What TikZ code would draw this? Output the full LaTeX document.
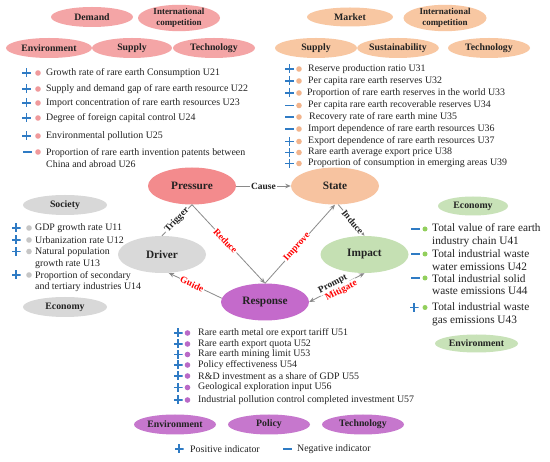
\documentclass[tikz,border=0pt]{standalone}
\usepackage{fontspec}
\setmainfont{Liberation Serif}
\setsansfont{Liberation Sans}
\usetikzlibrary{shapes.geometric,arrows.meta}
\definecolor{pinkM}{HTML}{F38B8D}
\definecolor{pinkS}{HTML}{F4A5A6}
\definecolor{pinkD}{HTML}{F09A9C}
\definecolor{peachM}{HTML}{F7C3A0}
\definecolor{peachS}{HTML}{F8C7A2}
\definecolor{peachD}{HTML}{F2B48C}
\definecolor{greyM}{HTML}{D9D9D9}
\definecolor{greyS}{HTML}{D8D8D8}
\definecolor{greyD}{HTML}{C6C6C6}
\definecolor{greenM}{HTML}{C5E0B3}
\definecolor{greenS}{HTML}{C8E2B8}
\definecolor{greenD}{HTML}{92CF5C}
\definecolor{purpM}{HTML}{C46ACB}
\definecolor{purpS}{HTML}{C677CD}
\definecolor{purpD}{HTML}{BA6AC7}
\definecolor{signblue}{HTML}{2F7BC4}
\definecolor{linegrey}{HTML}{8A8A8A}
\definecolor{txt}{HTML}{222222}
\tikzset{
  mainell/.style={ellipse, minimum width=88pt, minimum height=37pt, inner sep=0pt,
    font=\fontsize{11.3}{12}\selectfont\bfseries, text=txt},
  grpell/.style={ellipse, minimum width=82pt, minimum height=20pt, inner sep=0pt,
    font=\fontsize{9.8}{10.5}\selectfont\bfseries, text=txt, align=center},
  intell/.style={grpell, minimum height=22pt, font=\fontsize{9}{10.5}\selectfont\bfseries},
  itemtxt/.style={anchor=west, inner sep=0pt, font=\fontsize{9.9}{11.8}\selectfont, text=txt, align=left},
  bigitem/.style={anchor=west, inner sep=0pt, font=\fontsize{11.3}{12.6}\selectfont, text=txt, align=left},
  possign/.style={minimum size=9pt, inner sep=0pt, path picture={
      \fill[signblue] ([yshift=-0.8pt]path picture bounding box.west) rectangle ([yshift=0.8pt]path picture bounding box.east);
      \fill[signblue] ([xshift=-0.8pt]path picture bounding box.south) rectangle ([xshift=0.8pt]path picture bounding box.north);}},
  negsign/.style={minimum width=9pt, minimum height=1.6pt, inner sep=0pt, fill=signblue},
  bullet/.style={circle, minimum size=5.6pt, inner sep=0pt},
  conn/.style={draw=linegrey, line width=0.8pt, -{Stealth[length=5.5pt,width=4.5pt]}},
  plainconn/.style={draw=linegrey, line width=0.8pt},
  lbl/.style={font=\fontsize{9.5}{10}\selectfont\bfseries, fill=white, inner sep=0.8pt, sloped, text=txt},
  redlbl/.style={lbl, text=red},
}
\begin{document}
\begin{tikzpicture}[x=1pt,y=-1pt]
\fill[white] (0,0) rectangle (550,462);
\path[use as bounding box] (0,0) rectangle (550,462);

% ---------- main DPSIR ellipses
\node[mainell, fill=pinkM] (pressure) at (192,186) {Pressure};
\node[mainell, fill=peachM] (state) at (335,186) {State};
\node[mainell, fill=greyM] (driver) at (162,254.5) {Driver};
\node[mainell, fill=greenM] (impact) at (364.5,254.5) {Impact};
\node[mainell, fill=purpM] (response) at (265,302) {Response};

% ---------- connectors
\draw[conn] (pressure) -- node[lbl]{Cause} (state);
\draw[plainconn] (driver.north) -- node[lbl]{Trigger} (pressure.south);
\draw[conn] (pressure.south) -- node[redlbl, pos=.46]{Reduce} (response.north);
\draw[conn] (response.north) -- node[redlbl, pos=.46]{Improve} (state.south);
\draw[conn] (state.-80) -- node[lbl, pos=.55]{Induce} (impact.north);
\draw[conn] (response.175) -- node[redlbl, pos=.56]{Guide} (driver.-70);
\draw[conn, {Stealth[length=5.5pt,width=4.5pt]}-{Stealth[length=5.5pt,width=4.5pt]}]
  (response.east) -- node[lbl, above=-0.5pt, pos=.47]{Prompt} node[redlbl, below=-0.5pt, pos=.54]{Mitigate} (impact.south);

% ---------- Pressure group
\node[grpell, fill=pinkS] (pdem) at (92,17) {Demand};
\node[intell, fill=pinkS] (pint) at (179,18) {International\\competition};
\node[grpell, fill=pinkS, minimum width=86pt] (penv) at (49,48) {Environment};
\node[grpell, fill=pinkS, minimum width=80pt] (psup) at (132,48) {Supply};
\node[grpell, fill=pinkS] (ptec) at (214,48) {Technology};

\node[possign] (ps1) at (26.5,73) {};
\node[bullet, fill=pinkD] (pd1) at (38,73) {};
\node[itemtxt] (pt1) at (46,73) {Growth rate of rare earth Consumption U21};
\node[possign] (ps2) at (26.5,89) {};
\node[bullet, fill=pinkD] (pd2) at (38,89) {};
\node[itemtxt] (pt2) at (46,89) {Supply and demand gap of rare earth resource U22};
\node[possign] (ps3) at (26.5,103) {};
\node[bullet, fill=pinkD] (pd3) at (38,103) {};
\node[itemtxt] (pt3) at (46,103) {Import concentration of rare earth resources U23};
\node[possign] (ps4) at (26.5,118) {};
\node[bullet, fill=pinkD] (pd4) at (38,118) {};
\node[itemtxt] (pt4) at (46,118) {Degree of foreign capital control U24};
\node[possign] (ps5) at (26.5,136) {};
\node[bullet, fill=pinkD] (pd5) at (38,136) {};
\node[itemtxt] (pt5) at (46,136) {Environmental pollution U25};
\node[negsign] (ps6) at (27,152) {};
\node[bullet, fill=pinkD] (pd6) at (38,152) {};
\node[itemtxt] (pt6) at (46,158) {Proportion of rare earth invention patents between\\China and abroad U26};

% ---------- State group
\node[grpell, fill=peachS, minimum width=86pt, minimum height=19pt] (smar) at (350,17) {Market};
\node[intell, fill=peachS, minimum width=83pt] (sint) at (445,18) {International\\competition};
\node[grpell, fill=peachS] (ssup) at (316,48) {Supply};
\node[grpell, fill=peachS, minimum width=80pt] (ssus) at (398,48) {Sustainability};
\node[grpell, fill=peachS] (stec) at (489,48) {Technology};

\node[possign] (ss1) at (289.5,69) {};
\node[bullet, fill=peachD] (sd1) at (299,69) {};
\node[itemtxt] (st1) at (308,69) {Reserve production ratio U31};
\node[possign] (ss2) at (289.5,81) {};
\node[bullet, fill=peachD] (sd2) at (299,81) {};
\node[itemtxt] (st2) at (308,81) {Per capita rare earth reserves U32};
\node[possign] (ss3) at (289.5,93) {};
\node[bullet, fill=peachD] (sd3) at (299,93) {};
\node[itemtxt] (st3) at (307,93) {Proportion of rare earth reserves in the world U33};
\node[negsign] (ss4) at (289.5,105.5) {};
\node[bullet, fill=peachD] (sd4) at (299,105.5) {};
\node[itemtxt] (st4) at (308,105.5) {Per capita rare earth recoverable reserves U34};
\node[negsign] (ss5) at (289.5,117) {};
\node[bullet, fill=peachD] (sd5) at (299,117) {};
\node[itemtxt] (st5) at (309,117) {Recovery rate of rare earth mine U35};
\node[negsign] (ss6) at (289.5,129) {};
\node[bullet, fill=peachD] (sd6) at (299,129) {};
\node[itemtxt] (st6) at (308,129) {Import dependence of rare earth resources U36};
\node[possign] (ss7) at (289.5,141.5) {};
\node[bullet, fill=peachD] (sd7) at (299,141.5) {};
\node[itemtxt] (st7) at (308,141.5) {Export dependence of rare earth resources U37};
\node[possign] (ss8) at (289.5,152.5) {};
\node[bullet, fill=peachD] (sd8) at (299,152.5) {};
\node[itemtxt] (st8) at (308,152.5) {Rare earth average export price U38};
\node[possign] (ss9) at (289.5,163.5) {};
\node[bullet, fill=peachD] (sd9) at (299,163.5) {};
\node[itemtxt] (st9) at (308,163.5) {Proportion of consumption in emerging areas U39};

% ---------- Driver group
\node[grpell, fill=greyS, minimum width=84pt] (dsoc) at (65,205) {Society};
\node[grpell, fill=greyS, minimum width=84pt] (deco) at (65,307) {Economy};

\node[possign] (ds1) at (16,228) {};
\node[bullet, fill=greyD] (dd1) at (29,228) {};
\node[itemtxt] (dt1) at (35,228) {GDP growth rate U11};
\node[possign] (ds2) at (16,240) {};
\node[bullet, fill=greyD] (dd2) at (29,240) {};
\node[itemtxt] (dt2) at (35,240) {Urbanization rate U12};
\node[possign] (ds3) at (16,251.5) {};
\node[bullet, fill=greyD] (dd3) at (29,251.5) {};
\node[itemtxt] (dt3) at (35,258) {Natural population\\growth rate U13};
\node[possign] (ds4) at (16,275) {};
\node[bullet, fill=greyD] (dd4) at (29,275) {};
\node[itemtxt] (dt4) at (35,281.5) {Proportion of secondary\\and tertiary industries U14};

% ---------- Impact group
\node[grpell, fill=greenS, minimum width=70pt, minimum height=19pt] (ieco) at (473,206) {Economy};
\node[grpell, fill=greenS, minimum width=83pt, minimum height=18pt] (ienv) at (476.5,343.5) {Environment};

\node[negsign] (is1) at (415,229) {};
\node[bullet, fill=greenD, minimum size=5pt] (id1) at (425,229) {};
\node[bigitem] (it1) at (432,235) {Total value of rare earth\\industry chain U41};
\node[negsign] (is2) at (415,254) {};
\node[bullet, fill=greenD, minimum size=5pt] (id2) at (425,254) {};
\node[bigitem] (it2) at (432,260) {Total industrial waste\\water emissions U42};
\node[negsign] (is3) at (415,278) {};
\node[bullet, fill=greenD, minimum size=5pt] (id3) at (425,278) {};
\node[bigitem] (it3) at (432,284.5) {Total industrial solid\\waste emissions U44};
\node[possign] (is4) at (414,307.5) {};
\node[bullet, fill=greenD, minimum size=5pt] (id4) at (425,307.5) {};
\node[bigitem] (it4) at (432,314.5) {Total industrial waste\\gas emissions U43};

% ---------- Response group
\node[possign] (rs1) at (178,333) {};
\node[bullet, fill=purpD] (rd1) at (187.5,333) {};
\node[itemtxt] (rt1) at (198,333) {Rare earth metal ore export tariff U51};
\node[possign] (rs2) at (178,344) {};
\node[bullet, fill=purpD] (rd2) at (187.5,344) {};
\node[itemtxt] (rt2) at (198,344) {Rare earth export quota U52};
\node[possign] (rs3) at (178,354.5) {};
\node[bullet, fill=purpD] (rd3) at (187.5,354.5) {};
\node[itemtxt] (rt3) at (198,354.5) {Rare earth mining limit U53};
\node[possign] (rs4) at (178,365) {};
\node[bullet, fill=purpD] (rd4) at (187.5,365) {};
\node[itemtxt] (rt4) at (198,365) {Policy effectiveness U54};
\node[possign] (rs5) at (178,376) {};
\node[bullet, fill=purpD] (rd5) at (187.5,376) {};
\node[itemtxt] (rt5) at (198,376) {R\&D investment as a share of GDP U55};
\node[possign] (rs6) at (178,387.5) {};
\node[bullet, fill=purpD] (rd6) at (187.5,387.5) {};
\node[itemtxt] (rt6) at (198,387.5) {Geological exploration input U56};
\node[possign] (rs7) at (178,400) {};
\node[bullet, fill=purpD] (rd7) at (187.5,400) {};
\node[itemtxt] (rt7) at (198,400) {Industrial pollution control completed investment U57};

\node[grpell, fill=purpS] (renv) at (175,424.5) {Environment};
\node[grpell, fill=purpS] (rpol) at (269,424.5) {Policy};
\node[grpell, fill=purpS] (rtec) at (363,424.5) {Technology};

% ---------- legend
\node[possign] (lgp) at (179,449) {};
\node[itemtxt] (lgpt) at (190,449) {Positive indicator};
\node[negsign] (lgn) at (287.5,449) {};
\node[itemtxt] (lgnt) at (297,449) {Negative indicator};
\end{tikzpicture}
\end{document}
